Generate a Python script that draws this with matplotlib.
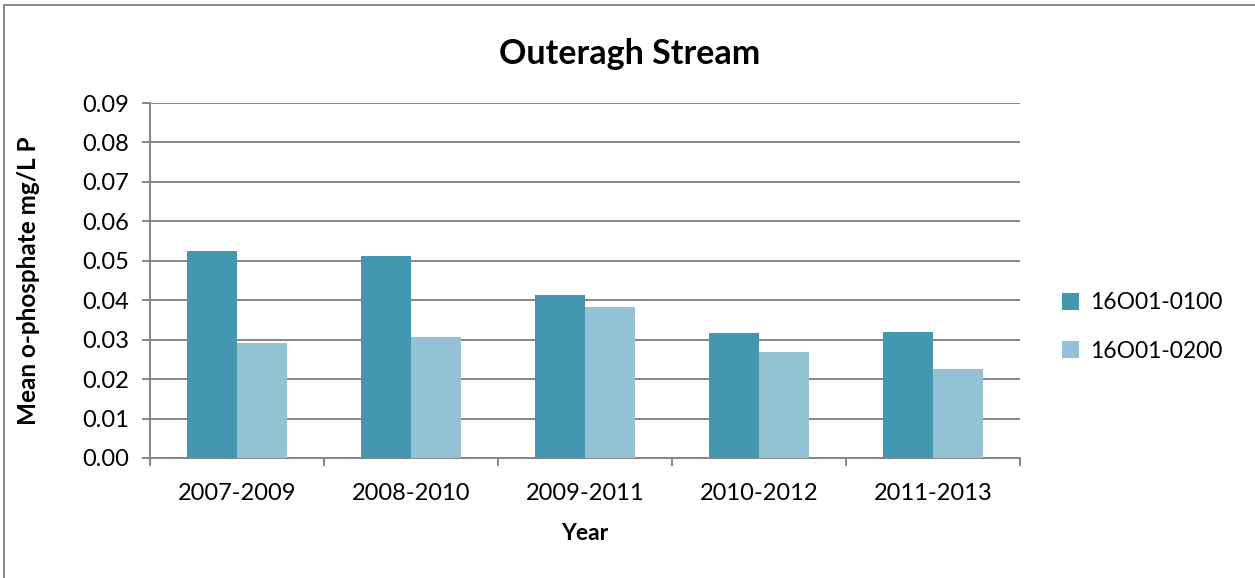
import matplotlib
matplotlib.use("Agg")
import matplotlib.pyplot as plt
from matplotlib.patches import Rectangle
import numpy as np

categories = ["2007-2009", "2008-2010", "2009-2011", "2010-2012", "2011-2013"]
series_names = ["16O01-0100", "16O01-0200"]
site_0100 = [0.0524, 0.0511, 0.0413, 0.0316, 0.0320]
site_0200 = [0.0291, 0.0307, 0.0382, 0.0268, 0.0225]
colors = ["#4397B0", "#93C2D4"]
yticks = [0.00, 0.01, 0.02, 0.03, 0.04, 0.05, 0.06, 0.07, 0.08, 0.09]

plt.rcParams['font.family'] = ['Lato', 'DejaVu Sans']
W, H = 1255, 578
fig = plt.figure(figsize=(W / 100, H / 100), dpi=100)
ax = fig.add_axes([150 / W, 1 - 458 / H, 870 / W, 355 / H])

x = np.arange(len(categories))
bw = 0.285
ax.bar(x - bw / 2, site_0100, width=bw, color=colors[0], label=series_names[0], zorder=3)
ax.bar(x + bw / 2, site_0200, width=bw, color=colors[1], label=series_names[1], zorder=3)

grid_c = "#868686"
ax.set_xlim(-0.5, len(categories) - 0.5)
ax.set_ylim(0, 0.09)
ax.set_yticks(yticks)
ax.set_yticklabels([f"{v:.2f}" for v in yticks])
ax.yaxis.grid(True, color=grid_c, linewidth=1.4, zorder=0)
ax.set_axisbelow(True)
for s in ["top", "right"]:
    ax.spines[s].set_visible(False)
for s in ["left", "bottom"]:
    ax.spines[s].set_color(grid_c)
    ax.spines[s].set_linewidth(1.4)

ax.set_xticks(x)
ax.set_xticklabels(categories)
ax.set_xticks(np.arange(-0.5, len(categories)), minor=True)
ax.tick_params(axis="x", which="major", length=0, pad=18, labelsize=17)
ax.tick_params(axis="x", which="minor", length=6, width=1.4, color=grid_c)
ax.tick_params(axis="y", length=6, width=1.4, color=grid_c, labelsize=17, pad=9)

ax.set_title("Outeragh Stream", fontsize=24.5, fontweight="bold", pad=28,
             x=(630 - 150) / 870)
ax.set_xlabel("Year", fontsize=16.5, fontweight="bold", labelpad=14)
ax.set_ylabel("Mean o-phosphate mg/L P", fontsize=17.5, fontweight="bold", labelpad=30)

leg = ax.legend(loc="center left", bbox_to_anchor=(1041 / W, 1 - 327 / H),
                bbox_transform=fig.transFigure, frameon=False, fontsize=16.5,
                handlelength=0.75, handleheight=0.75, handletextpad=0.5,
                labelspacing=1.2)

fig.patches.append(Rectangle((4 / W, -0.01), 1.02, 1 - 5 / H + 0.01,
                             transform=fig.transFigure, fill=False,
                             edgecolor=grid_c, linewidth=1.4))

fig.savefig("out.png", dpi=100)
